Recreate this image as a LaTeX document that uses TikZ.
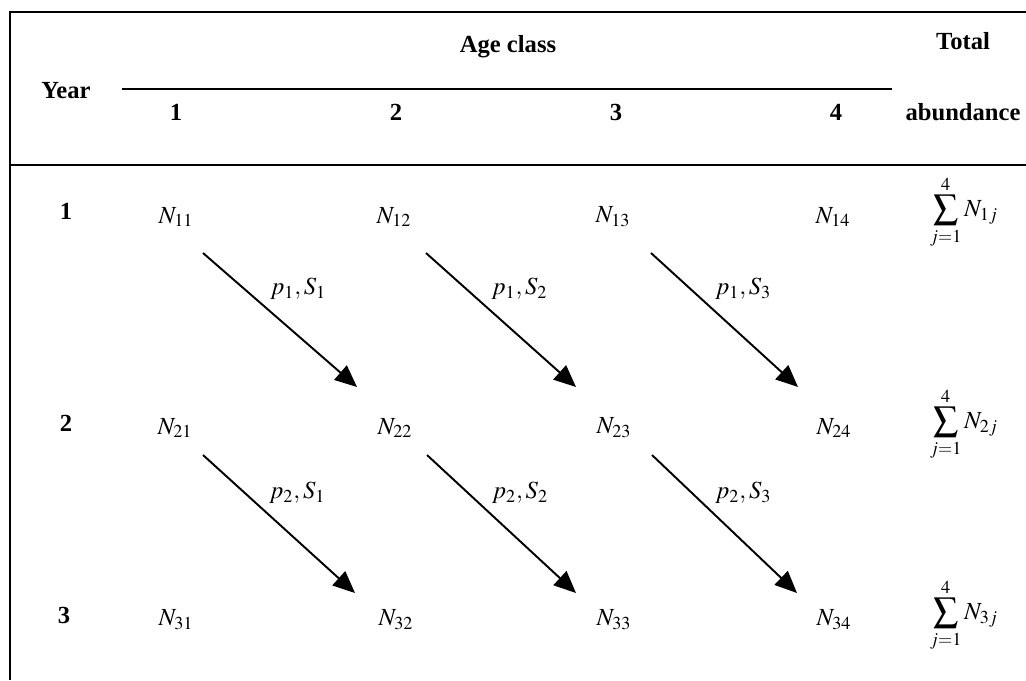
\documentclass[tikz,border=0pt]{standalone}
\usepackage{mathptmx}
\usepackage{fontspec}
\setmainfont{Liberation Serif}
\usetikzlibrary{arrows.meta}
\tikzset{
  >={Triangle[length=4.4mm,width=3.8mm]},
  rule/.style={line width=1pt},
  hd/.style={font=\fontsize{14}{16}\selectfont\bfseries,inner sep=0pt},
  cell/.style={font=\fontsize{14}{16}\selectfont,inner sep=0pt},
  surv/.style={->,line width=1.1pt},
  lab/.style={font=\fontsize{14}{16}\selectfont,anchor=south west,inner sep=0pt,
              pos=.43,yshift=2mm},
}

\begin{document}
\begin{tikzpicture}[x=0.02cm,y=-0.02cm]
  \useasboundingbox (0,0) rectangle (1026,680);
  % frame
  \draw[rule] (1026,12) -- (10,12) -- (10,680);
  \draw[rule] (10,165) -- (1026,165);
  \draw[rule] (122,89) -- (892,89);
  % header
  \node[hd] (year) at (66,91) {Year};
  \node[hd] (age) at (508,47) {Age class};
  \node[hd] (tot) at (963,41) {Total};
  \node[hd] (abund) at (963,112) {abundance};
  \node[hd] (c1) at (176,112) {1};
  \node[hd] (c2) at (396,112) {2};
  \node[hd] (c3) at (616,112) {3};
  \node[hd] (c4) at (836,112) {4};
  % rows
  \node[hd] (y1) at (66,211) {1};
  \node[hd] (y2) at (66,423) {2};
  \node[hd] (y3) at (64,615) {3};
  \node[cell] (n11) at (176,217) {$N_{11}$};
  \node[cell] (n12) at (394,217) {$N_{12}$};
  \node[cell] (n13) at (613,217) {$N_{13}$};
  \node[cell] (n14) at (833,217) {$N_{14}$};
  \node[cell] (n21) at (175,428) {$N_{21}$};
  \node[cell] (n22) at (395,428) {$N_{22}$};
  \node[cell] (n23) at (614,428) {$N_{23}$};
  \node[cell] (n24) at (834,428) {$N_{24}$};
  \node[cell] (n31) at (176,620) {$N_{31}$};
  \node[cell] (n32) at (396,620) {$N_{32}$};
  \node[cell] (n33) at (614,620) {$N_{33}$};
  \node[cell] (n34) at (834,620) {$N_{34}$};
  \node[cell] (s1) at (964,212) {$\displaystyle\sum_{j=1}^{4}N_{1j}$};
  \node[cell] (s2) at (964,424) {$\displaystyle\sum_{j=1}^{4}N_{2j}$};
  \node[cell] (s3) at (964,615) {$\displaystyle\sum_{j=1}^{4}N_{3j}$};
  % transitions
  \draw[surv] ([shift={(27,36)}]n11.center) -- node[lab]{$p_1,S_1$} ([shift={(-38,-41)}]n22.center);
  \draw[surv] ([shift={(32,36)}]n12.center) -- node[lab]{$p_1,S_2$} ([shift={(-38,-41)}]n23.center);
  \draw[surv] ([shift={(38,36)}]n13.center) -- node[lab]{$p_1,S_3$} ([shift={(-36,-41)}]n24.center);
  \draw[surv] ([shift={(28,27)}]n21.center) -- node[lab]{$p_2,S_1$} ([shift={(-41,-27)}]n32.center);
  \draw[surv] ([shift={(32,27)}]n22.center) -- node[lab]{$p_2,S_2$} ([shift={(-38,-27)}]n33.center);
  \draw[surv] ([shift={(38,27)}]n23.center) -- node[lab]{$p_2,S_3$} ([shift={(-37,-27)}]n34.center);
\end{tikzpicture}
\end{document}
